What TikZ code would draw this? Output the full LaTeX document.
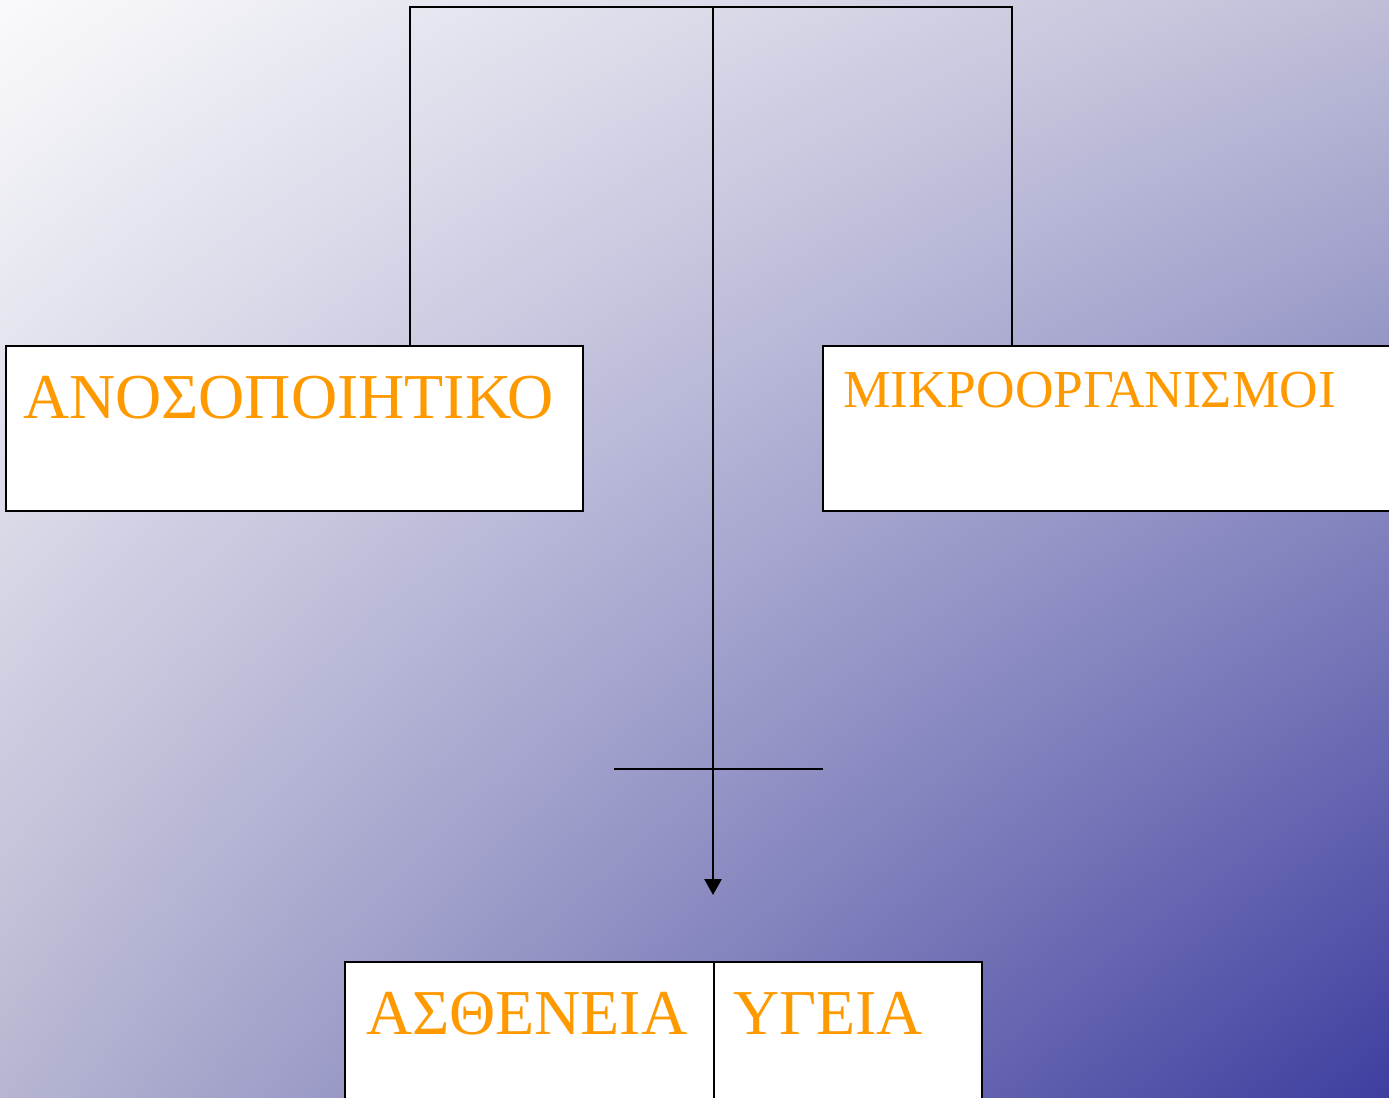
\documentclass[tikz,border=0pt]{standalone}
\usepackage{fontspec}
\setmainfont{Liberation Serif}
\usepackage{tikz}
\usetikzlibrary{arrows.meta,positioning,calc,shadings}

\definecolor{bgtl}{RGB}{250,250,252}
\definecolor{bgtr}{RGB}{190,190,216}
\definecolor{bgbl}{RGB}{182,182,210}
\definecolor{bgbr}{RGB}{62,62,160}
\definecolor{labelorange}{RGB}{255,153,0}

\begin{document}
\begin{tikzpicture}[
    line width=0.75pt,
    box/.style={
        rectangle,
        draw=black,
        fill=white,
        inner ysep=0pt,
        outer sep=0pt,
        align=left,
        text=labelorange,
        font=\fontsize{18.2}{22}\selectfont
    },
    line/.style={
        draw,
        -{Triangle[width=0.17cm,length=0.16cm]}
    }
]
\useasboundingbox (0,0) rectangle (13.89,-10.97);
\clip (0,0) rectangle (13.89,-10.97);

% Background
\shade[upper left=bgtl, upper right=bgtr, lower left=bgbl, lower right=bgbr]
    (0,0) rectangle (13.89,-10.97);

% Nodes
\node [box, anchor=north west, inner xsep=0.17cm, text width=5.43cm,
       text height=0.72cm, text depth=0.93cm]
    (immune) at (0.06,-3.46) {ΑΝΟΣΟΠΟΙΗΤΙΚΟ};
\node [box, right=2.4cm of immune, anchor=west, inner xsep=0.20cm, text width=5.6cm,
       text height=0.61cm, text depth=1.04cm, font=\fontsize{15.2}{18}\selectfont]
    (micro) {ΜΙΚΡΟΟΡΓΑΝΙΣΜΟΙ};
\node [box, anchor=north west, inner xsep=0.21cm, text width=3.27cm,
       text height=0.72cm, text depth=1.40cm]
    (disease) at (3.45,-9.62) {ΑΣΘΕΝΕΙΑ};
\node [box, right=0pt of disease, inner xsep=0.19cm, text width=2.30cm,
       text height=0.72cm, text depth=1.40cm]
    (health) {ΥΓΕΙΑ};

\coordinate (hub) at (7.13,-0.07);
\coordinate (lefttop) at (4.10,-0.07);
\coordinate (righttop) at (10.12,-0.07);
\coordinate (tip) at (7.13,-8.95);
\coordinate (barleft) at (6.14,-7.69);
\coordinate (barright) at (8.23,-7.69);

% Edges
\draw (lefttop |- immune.north) -- (lefttop) -- (righttop) -- (righttop |- micro.north);
\path [line] (hub) -- (tip);
\draw (barleft) -- (barright);

\end{tikzpicture}
\end{document}
